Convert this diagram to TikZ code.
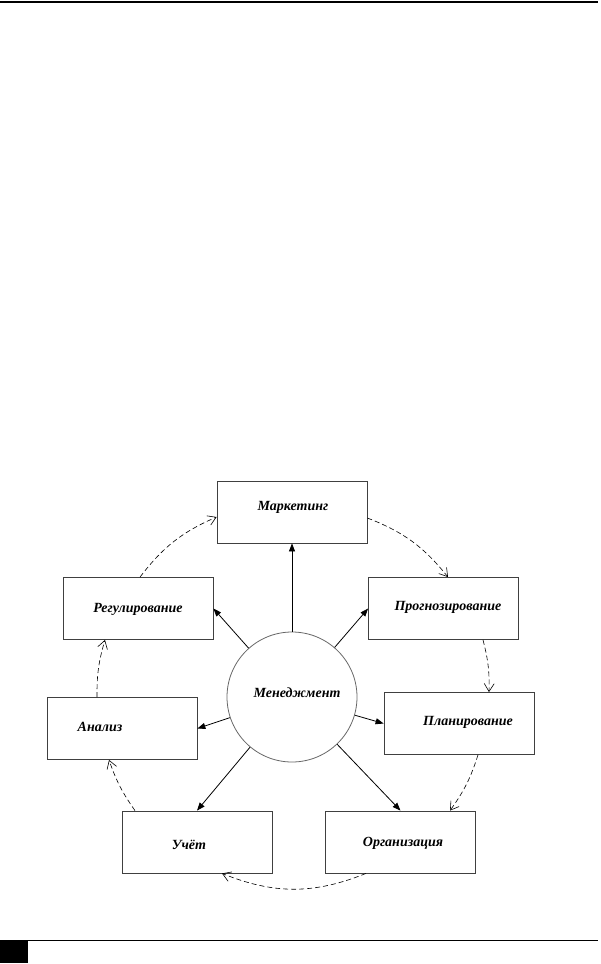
\documentclass[tikz,border=0pt]{standalone}
\usepackage{fontspec}
\setmainfont{Liberation Serif}
\usetikzlibrary{arrows.meta}

\begin{document}
\begin{tikzpicture}[x=1pt, y=-1pt,
  func/.style={draw=black!75, line width=0.8pt, minimum width=150pt,
               minimum height=62pt},
  caption/.style={font=\fontsize{14}{16}\selectfont\bfseries\itshape},
  core/.style={circle, draw=black!60, line width=0.8pt, minimum size=130pt,
               inner sep=0pt},
  link/.style={-{Triangle[length=8pt,width=6pt]}, line width=0.8pt},
  loopflow/.style={-{Straight Barb[length=8pt,width=10pt]}, line width=0.6pt,
                   dash pattern=on 5pt off 3pt},
]
\useasboundingbox (0,0) rectangle (600,964);

% page rules
\draw[line width=2pt] (0,2) -- (598,2);
\draw[line width=1pt] (0,940.5) -- (598,940.5);
\fill (0,940) rectangle (28,963);

% functions
\node[core, label={[caption, xshift=5pt, yshift=4pt]center:Менеджмент}] (mng) at (292,697) {};
\node[func, label={[caption, xshift=1pt, yshift=5pt]center:Маркетинг}] (mark) at (292,512) {};
\node[func, label={[caption, xshift=4.5pt, yshift=1pt]center:Прогнозирование}] (prog) at (443.5,608.5) {};
\node[func, label={[caption, xshift=9pt, yshift=1pt]center:Планирование}] (plan) at (459,723.5) {};
\node[func, label={[caption, xshift=2.5pt, yshift=-1pt]center:Организация}] (org) at (400.5,842) {};
\node[func, label={[caption, xshift=-8pt, yshift=-3pt]center:Учёт}] (uch) at (197,842) {};
\node[func, label={[caption, xshift=-22pt, yshift=1.5pt]center:Анализ}] (anal) at (122,728.5) {};
\node[func, label={[caption, yshift=-0.5pt]center:Регулирование}] (reg) at (138,608.5) {};

% management links
\draw[link] (mng) -- (mark.south);
\draw[link] (mng) -- (prog.west);
\draw[link] (mng) -- (plan.west);
\draw[link] (mng) -- (org.north);
\draw[link] (mng) -- (uch.north);
\draw[link] (mng) -- (anal.east);
\draw[link] (mng) -- (reg.east);

% cycle
\draw[loopflow] ([yshift=-6pt]mark.east) to[bend left=15] ([xshift=4.5pt]prog.north);
\draw[loopflow] ([xshift=39.5pt]prog.south) to[bend left=8] ([xshift=30pt]plan.north);
\draw[loopflow] ([xshift=19pt]plan.south) to[bend left=9] ([xshift=49.5pt]org.north);
\draw[loopflow] ([xshift=-34.5pt]org.south) to[bend left=22] ([xshift=25pt]uch.south);
\draw[loopflow] ([xshift=-62pt]uch.north) to[bend left=8] ([xshift=-13pt]anal.south);
\draw[loopflow] ([xshift=-25pt]anal.north) to[bend left=8.5] ([xshift=-33pt]reg.south);
\draw[loopflow] ([xshift=2pt]reg.north) to[bend left=14.5] ([yshift=-5pt]mark.west);
\end{tikzpicture}
\end{document}
